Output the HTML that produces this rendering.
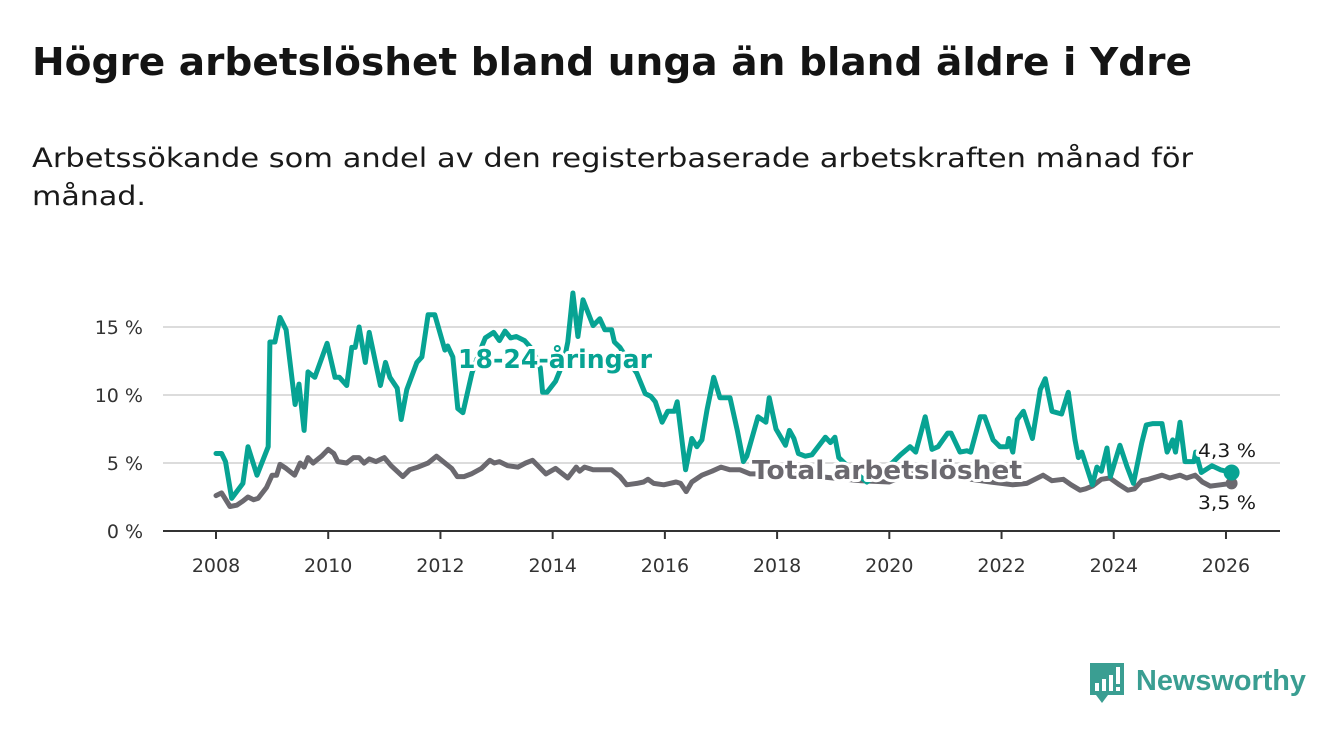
<!DOCTYPE html>
<html><head><meta charset="utf-8"><style>
html,body{margin:0;padding:0;background:#fff;}
svg{display:block;font-family:"DejaVu Sans","Liberation Sans",sans-serif;}
</style></head><body>
<svg id="chart" width="1340" height="734" viewBox="0 0 1340 734" xmlns="http://www.w3.org/2000/svg">
<text x="32" y="75" font-size="38" font-weight="bold" fill="#141414" textLength="1160" lengthAdjust="spacingAndGlyphs">Högre arbetslöshet bland unga än bland äldre i Ydre</text>
<text x="32" y="167" font-size="27" fill="#1a1a1a" textLength="1161" lengthAdjust="spacingAndGlyphs">Arbetssökande som andel av den registerbaserade arbetskraften månad för</text>
<text x="32" y="205" font-size="27" fill="#1a1a1a" textLength="114" lengthAdjust="spacingAndGlyphs">månad.</text>
<g id="grid"></g>
<g id="xaxis"></g>
<g id="yaxis"></g>
<g id="series"></g>
<g id="labels"></g>
<g>
<path d="M1090 663 h34 v32 h-16 l-6 8 l-6 -8 h-6 z" fill="#3a9e92"/>
<rect x="1095" y="683" width="4" height="8" fill="#fff"/><rect x="1102" y="679" width="4" height="12" fill="#fff"/><rect x="1109" y="675" width="4" height="16" fill="#fff"/><rect x="1116" y="667" width="4" height="17" fill="#fff"/><rect x="1116" y="687" width="4" height="4" fill="#fff"/>
<text x="1136" y="690" font-family="Liberation Sans, sans-serif" font-size="29" font-weight="bold" fill="#3a9e92" textLength="170" lengthAdjust="spacingAndGlyphs">Newsworthy</text>
</g>
</svg>
<script>
const yTicks=[0,5,10,15];
const yTickLabels=["0 %","5 %","10 %","15 %"];
const xTicks=[2008,2010,2012,2014,2016,2018,2020,2022,2024,2026];
const youthT=[2008.0,2008.1,2008.17,2008.28,2008.48,2008.57,2008.73,2008.93,2008.96,2009.05,2009.14,2009.25,2009.41,2009.48,2009.57,2009.64,2009.76,2009.98,2010.12,2010.2,2010.33,2010.42,2010.48,2010.55,2010.66,2010.73,2010.93,2011.02,2011.1,2011.23,2011.3,2011.4,2011.58,2011.67,2011.78,2011.9,2012.08,2012.13,2012.22,2012.31,2012.4,2012.56,2012.7,2012.8,2012.95,2013.05,2013.15,2013.25,2013.35,2013.5,2013.65,2013.78,2013.82,2013.9,2014.05,2014.2,2014.27,2014.36,2014.45,2014.54,2014.72,2014.84,2014.93,2015.05,2015.1,2015.2,2015.35,2015.5,2015.65,2015.75,2015.83,2015.95,2016.05,2016.17,2016.22,2016.37,2016.48,2016.57,2016.66,2016.75,2016.87,2016.98,2017.16,2017.29,2017.4,2017.46,2017.66,2017.8,2017.86,2017.98,2018.15,2018.22,2018.3,2018.38,2018.5,2018.62,2018.86,2018.95,2019.03,2019.1,2019.3,2019.6,2019.85,2020.05,2020.2,2020.37,2020.47,2020.64,2020.76,2020.87,2021.04,2021.1,2021.26,2021.38,2021.45,2021.62,2021.7,2021.85,2021.97,2022.1,2022.13,2022.2,2022.28,2022.39,2022.55,2022.69,2022.78,2022.9,2023.07,2023.19,2023.31,2023.37,2023.43,2023.62,2023.7,2023.78,2023.88,2023.94,2024.11,2024.23,2024.35,2024.5,2024.58,2024.7,2024.86,2024.95,2025.05,2025.1,2025.18,2025.27,2025.43,2025.46,2025.56,2025.75,2025.9,2026.1];
const youthV=[5.7,5.7,5.1,2.4,3.5,6.2,4.1,6.2,13.9,13.9,15.7,14.8,9.3,10.8,7.4,11.7,11.3,13.8,11.3,11.3,10.7,13.5,13.5,15.0,12.4,14.6,10.7,12.4,11.3,10.5,8.2,10.4,12.4,12.8,15.9,15.9,13.3,13.6,12.8,9.0,8.7,11.6,13.2,14.2,14.6,14.0,14.7,14.2,14.3,14.0,13.3,12.0,10.2,10.2,11.0,12.5,13.9,17.5,14.3,17.0,15.1,15.6,14.8,14.8,13.9,13.5,12.5,11.6,10.1,9.9,9.5,8.0,8.8,8.8,9.5,4.5,6.8,6.2,6.7,8.9,11.3,9.8,9.8,7.4,5.1,5.5,8.4,8.0,9.8,7.5,6.3,7.4,6.8,5.7,5.5,5.6,6.9,6.5,6.9,5.4,4.6,3.6,4.4,5.0,5.6,6.2,5.8,8.4,6.0,6.2,7.2,7.2,5.8,5.9,5.8,8.4,8.4,6.7,6.2,6.2,6.8,5.8,8.2,8.8,6.8,10.4,11.2,8.8,8.6,10.2,6.7,5.4,5.8,3.4,4.7,4.4,6.1,4.0,6.3,4.8,3.5,6.5,7.8,7.9,7.9,5.8,6.7,5.8,8.0,5.1,5.1,5.8,4.3,4.8,4.5,4.3];
const totalT=[2008.0,2008.1,2008.25,2008.37,2008.48,2008.57,2008.67,2008.75,2008.9,2009.0,2009.08,2009.14,2009.25,2009.4,2009.5,2009.57,2009.64,2009.73,2009.88,2010.0,2010.1,2010.17,2010.33,2010.45,2010.55,2010.64,2010.73,2010.85,2011.0,2011.12,2011.33,2011.45,2011.6,2011.78,2011.93,2012.02,2012.2,2012.3,2012.42,2012.55,2012.73,2012.88,2012.96,2013.05,2013.2,2013.38,2013.52,2013.64,2013.88,2014.05,2014.27,2014.42,2014.48,2014.57,2014.72,2014.93,2015.05,2015.2,2015.32,2015.5,2015.62,2015.7,2015.8,2015.98,2016.2,2016.28,2016.38,2016.48,2016.66,2016.84,2017.0,2017.16,2017.34,2017.52,2018.0,2018.5,2019.0,2019.5,2020.0,2020.4,2020.8,2021.3,2021.8,2022.0,2022.2,2022.45,2022.74,2022.9,2023.1,2023.24,2023.4,2023.5,2023.62,2023.78,2023.93,2024.1,2024.25,2024.37,2024.5,2024.62,2024.86,2025.0,2025.18,2025.3,2025.45,2025.58,2025.72,2025.9,2026.1];
const totalV=[2.6,2.8,1.8,1.9,2.2,2.5,2.3,2.4,3.2,4.1,4.1,4.9,4.6,4.1,5.0,4.7,5.4,5.0,5.5,6.0,5.7,5.1,5.0,5.4,5.4,5.0,5.3,5.1,5.4,4.8,4.0,4.5,4.7,5.0,5.5,5.2,4.6,4.0,4.0,4.2,4.6,5.2,5.0,5.1,4.8,4.7,5.0,5.2,4.2,4.6,3.9,4.7,4.4,4.7,4.5,4.5,4.5,4.0,3.4,3.5,3.6,3.8,3.5,3.4,3.6,3.5,2.9,3.6,4.1,4.4,4.7,4.5,4.5,4.2,4.2,4.1,3.9,3.7,3.6,4.3,4.2,3.9,3.6,3.5,3.4,3.5,4.1,3.7,3.8,3.4,3.0,3.1,3.3,3.8,3.9,3.4,3.0,3.1,3.7,3.8,4.1,3.9,4.1,3.9,4.1,3.6,3.3,3.4,3.5];
const youthLast="4,3 %", totalLast="3,5 %";

const NS="http://www.w3.org/2000/svg";
const X=t=>216+(t-2008)*56.11;
const Y=v=>531-13.6*v;
function mk(tag,attrs,parent,text){const e=document.createElementNS(NS,tag);for(const k in attrs)e.setAttribute(k,attrs[k]);if(text!==undefined)e.textContent=text;parent.appendChild(e);return e;}
const grid=document.getElementById('grid'),xa=document.getElementById('xaxis'),ya=document.getElementById('yaxis'),ser=document.getElementById('series'),lab=document.getElementById('labels');
yTicks.forEach((v,i)=>{
 if(v>0){const l=mk('line',{x1:163,x2:1280,y1:Y(v),y2:Y(v),stroke:'#dcdcdc','stroke-width':2},grid);
 
 }
 const t=mk('text',{x:143,y:Y(v)+7,'text-anchor':'end','font-size':19,fill:'#333'},ya,yTickLabels[i]);
 
 
});
const ax=mk('line',{x1:163,x2:1280,y1:531,y2:531,stroke:'#333','stroke-width':2},xa);


xTicks.forEach(t=>{
 const tk=mk('line',{x1:X(t),x2:X(t),y1:531,y2:539,stroke:'#333','stroke-width':2},xa);
 
 
 const tx=mk('text',{x:X(t),y:572,'text-anchor':'middle','font-size':19,fill:'#333'},xa,String(t));
 
 
});
function line(T,V,color,name,r){
 const d=T.map((t,i)=>(i?'L':'M')+X(t).toFixed(1)+' '+Y(V[i]).toFixed(1)).join(' ');
 const p=mk('path',{d:d,fill:'none',stroke:color,'stroke-width':5,'stroke-linejoin':'round','stroke-linecap':'round'},ser);
 
 
 const n=T.length-1;
 const c=mk('circle',{cx:X(T[n]),cy:Y(V[n]),r:r,fill:color},ser);
 
 
}
line(totalT,totalV,'#6b696f','total-line',6);
line(youthT,youthV,'#07a393','youth-line',8);
function label(x,y,txt,color,size,w,name,bold){
 const a={x:x,y:y,'font-size':size,fill:color,stroke:'#fff','stroke-width':6,'paint-order':'stroke','stroke-linejoin':'round'};
 if(bold)a['font-weight']='bold';
 if(w){a.textLength=w;a.lengthAdjust='spacingAndGlyphs';}
 const t=mk('text',a,lab,txt);
 
 
}
label(458,368,'18-24-åringar','#07a393',26,194,'youth-series-label',true);
label(752,479,'Total arbetslöshet','#6b696f',26,270,'total-series-label',true);
label(1198,457,youthLast,'#1a1a1a',19,58,'youth-last-value',false);
label(1198,509,totalLast,'#1a1a1a',19,58,'total-last-value',false);
</script>
</body></html>
